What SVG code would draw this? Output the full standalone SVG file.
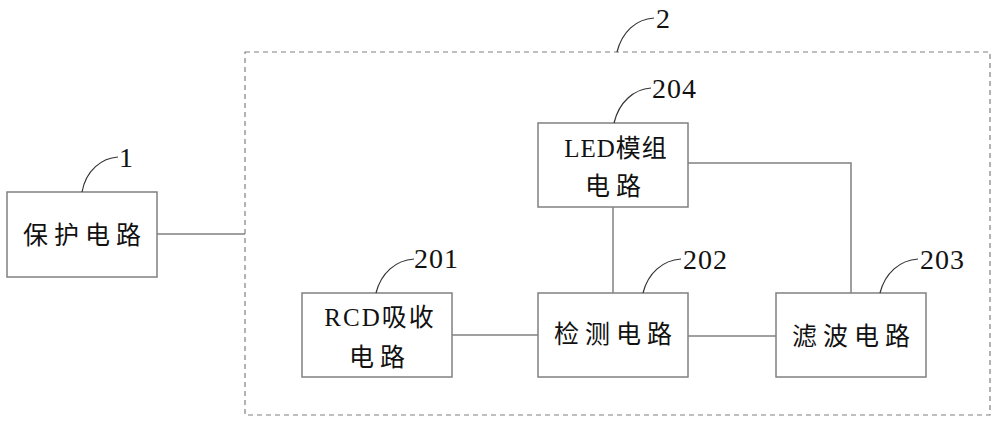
<svg xmlns="http://www.w3.org/2000/svg" width="1000" height="425" viewBox="0 0 1000 425">
<style>
.box{fill:#fff;stroke:#808080;stroke-width:1.5}
.ln{fill:none;stroke:#808080;stroke-width:1.5}
.lead{fill:none;stroke:#333;stroke-width:1.2}
.t{font-family:"Liberation Serif","Noto Sans CJK SC",serif;font-size:25px;fill:#111;text-anchor:middle;dominant-baseline:central;letter-spacing:6px}
.n{font-family:"Liberation Serif",serif;font-size:28px;fill:#111;letter-spacing:1px}
</style>
<rect width="1000" height="425" fill="#fff"/>
<g id="connectors">
<rect x="245" y="52" width="745" height="363" fill="none" stroke="#808080" stroke-width="1.2" stroke-dasharray="5,4"/>
<line class="ln" x1="157" y1="234" x2="245" y2="234"/>
<line class="ln" x1="452" y1="335" x2="538" y2="335"/>
<line class="ln" x1="688" y1="336" x2="776" y2="336"/>
<line class="ln" x1="613" y1="207" x2="613" y2="293"/>
<polyline class="ln" points="688,163 851,163 851,293"/>
</g>
<g id="label-2">
<path class="lead" d="M617,52 C622,32 636,19 654,18"/>
<text class="n" x="656" y="28">2</text>
</g>
<g id="node-1">
<rect class="box" x="7" y="192" width="150" height="85"/>
<text class="t" x="85" y="235">保护电路</text>
<path class="lead" d="M82,192 C86,170 102,158 118,157"/>
<text class="n" x="119" y="167">1</text>
</g>
<g id="node-204">
<rect class="box" x="538" y="123" width="150" height="84"/>
<text class="t" x="616" y="148" style="letter-spacing:1px">LED模组</text>
<text class="t" x="616" y="186">电路</text>
<path class="lead" d="M614,123 C619,102 634,89 651,88"/>
<text class="n" x="652" y="98">204</text>
</g>
<g id="node-201">
<rect class="box" x="302" y="293" width="150" height="84"/>
<text class="t" x="380" y="317" style="letter-spacing:2px">RCD吸收</text>
<text class="t" x="380" y="357">电路</text>
<path class="lead" d="M376,293 C381,273 396,260 414,259"/>
<text class="n" x="414" y="268">201</text>
</g>
<g id="node-202">
<rect class="box" x="538" y="293" width="150" height="84"/>
<text class="t" x="616" y="334">检测电路</text>
<path class="lead" d="M643,293 C648,273 663,260 681,259"/>
<text class="n" x="683" y="269">202</text>
</g>
<g id="node-203">
<rect class="box" x="776" y="293" width="150" height="84"/>
<text class="t" x="854" y="336">滤波电路</text>
<path class="lead" d="M880,293 C885,273 900,260 918,259"/>
<text class="n" x="920" y="269">203</text>
</g>
</svg>
